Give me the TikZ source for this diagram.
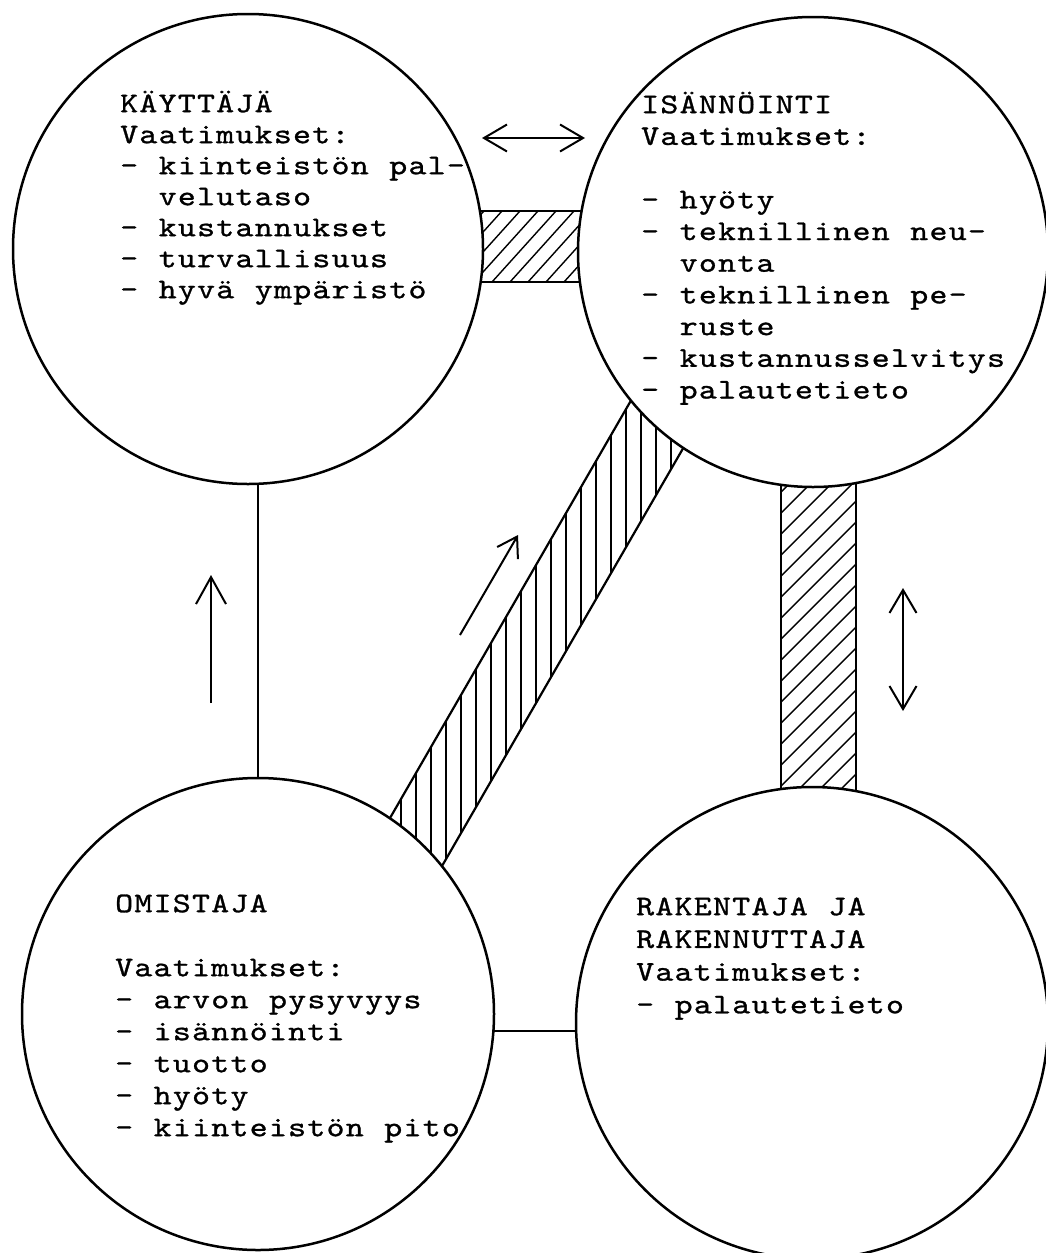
\documentclass[tikz,border=0pt]{standalone}
\usepackage{fontspec}
\newfontfamily\tw{lmmono10-regular.otf}[FakeStretch=1.2, LetterSpace=4.4, WordSpace=1.07, FakeBold=1]
\usetikzlibrary{arrows.meta,backgrounds}
\begin{document}
\begin{tikzpicture}[x=1pt,y=-1pt,
  party/.style={circle, draw, line width=2.5pt, fill=white, inner sep=0pt},
  lbl/.style={anchor=north west, inner sep=0pt, align=left,
    font={\tw\fontsize{28.5}{#1}\selectfont\lineskiplimit=-100pt}},
  conn/.style={line width=2pt},
  bandline/.style={line width=2.2pt},
  hatch/.style={line width=1.4pt},
  darr/.style={line width=2pt, {Straight Barb[length=23pt,width=27pt]}-{Straight Barb[length=23pt,width=27pt]}}
]
\useasboundingbox (0,0) rectangle (1046,1253);

% parties
\node[party, minimum size=470pt] (kay) at (248,249) {};
\node[party, minimum size=470pt] (isa) at (813,252) {};
\node[party, minimum size=472pt] (omi) at (258,1014) {};
\node[party, minimum size=472pt] (rak) at (812,1023) {};

% band corners (diagonal band)
\coordinate (dU1) at (330,922);
\coordinate (dU2) at (678,319);
\coordinate (dL2) at (730,367);
\coordinate (dL1) at (382,970);

\begin{pgfonlayer}{background}
  % plain connectors
  \draw[conn] (omi.center |- kay.center) -- (omi.center);
  \draw[conn] (omi.center |- 0,1031) -- (rak.center |- 0,1031);
  % top band kay - isa
  \begin{scope}
    \clip (kay.center |- 0,211) rectangle (isa.center |- 0,282);
    \foreach \x in {240,258,...,830} \draw[hatch] (\x,282) -- (\x+64,211);
  \end{scope}
  \draw[bandline] (kay.center |- 0,211) rectangle (isa.center |- 0,282);
  % right band isa - rak
  \begin{scope}
    \clip (781,0 |- isa.center) rectangle (856,0 |- rak.center);
    \foreach \y in {240,261,...,1110} \draw[hatch] (781,\y) -- (856,\y-75);
  \end{scope}
  \draw[bandline] (781,0 |- isa.center) rectangle (856,0 |- rak.center);
  % diagonal band omi - isa
  \begin{scope}
    \clip (dU1) -- (dU2) -- (dL2) -- (dL1) -- cycle;
    \foreach \x in {326,341,...,740} \draw[hatch] (\x,300) -- (\x,990);
  \end{scope}
  \draw[bandline] (dU1) -- (dU2) -- (dL2) -- (dL1) -- cycle;
\end{pgfonlayer}

% texts
\node[lbl=31] (kayt) at (120,85) {\rule{0pt}{27pt}KÄYTTÄJÄ\\Vaatimukset:\\- kiinteistön pal-\\\phantom{- }velutaso\\- kustannukset\\- turvallisuus\\- hyvä ympäristö};
\node[lbl=31.7] (isat) at (641,86) {\rule{0pt}{27pt}ISÄNNÖINTI\\Vaatimukset:\\[31.7pt]- hyöty\\- teknillinen neu-\\\phantom{- }vonta\\- teknillinen pe-\\\phantom{- }ruste\\- kustannusselvitys\\- palautetieto};
\node[lbl=32] (omit) at (115,885) {\rule{0pt}{27pt}OMISTAJA\\[32pt]Vaatimukset:\\- arvon pysyvyys\\- isännöinti\\- tuotto\\- hyöty\\- kiinteistön pito};
\node[lbl=32.7] (rakt) at (636,888) {\rule{0pt}{27pt}RAKENTAJA JA\\RAKENNUTTAJA\\Vaatimukset:\\- palautetieto};

% direction arrows
\coordinate (a1s) at (211,703); \coordinate (a1e) at (211,575);
\draw[line width=2pt, -{Straight Barb[length=27pt,width=30pt]}] (a1s) -- (a1e);
\coordinate (a2s) at (460,635); \coordinate (a2e) at (518,535);
\draw[line width=2pt, -{Straight Barb[length=19pt,width=24pt]}] (a2s) -- (a2e);
\coordinate (a3s) at (482,138); \coordinate (a3e) at (585,138);
\draw[darr] (a3s) -- (a3e);
\coordinate (a4s) at (903,588); \coordinate (a4e) at (903,711);
\draw[darr] (a4s) -- (a4e);
\end{tikzpicture}
\end{document}
